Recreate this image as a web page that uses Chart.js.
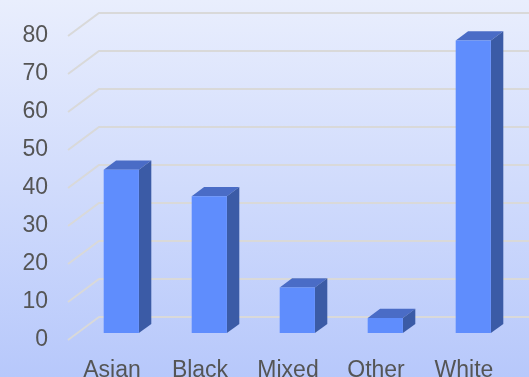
<!DOCTYPE html>
<html>
<head>
<meta charset="utf-8">
<script src="https://cdn.jsdelivr.net/npm/chart.js@4.4.1/dist/chart.umd.min.js"></script>
<style>
  html, body { margin: 0; padding: 0; overflow: hidden; }
  #wrap { width: 529px; height: 377px; }
  canvas { display: block; }
</style>
</head>
<body>
<div id="wrap"><canvas id="chart"></canvas></div>
<script>
const categories = ["Asian", "Black", "Mixed", "Other", "White"];
const counts = [43, 36, 12, 4, 77];
const yMin = 0;
const yMax = 80;
const yStep = 10;

// Fake 3D: the floor recedes by (DEPTH_X, DEPTH_Y); bars sit in the middle of it.
const DEPTH_X = 31, DEPTH_Y = -23;
const BAR_FRONT = 0.3, BAR_DEPTH = 0.4;

const box3d = {
  id: "box3d",
  beforeDraw(chart) {
    const { ctx, width, height } = chart;
    const g = ctx.createLinearGradient(0, 0, 0, height);
    g.addColorStop(0, "#e9eefd");
    g.addColorStop(1, "#b7c8fb");
    ctx.save();
    ctx.fillStyle = g;
    ctx.fillRect(0, 0, width, height);
    ctx.restore();
  },
  beforeDatasetsDraw(chart) {
    const { ctx, chartArea, scales: { y } } = chart;

    // gridlines: short diagonal on the floor, then flat along the back wall
    ctx.save();
    ctx.strokeStyle = "#d9d9d9";
    ctx.lineWidth = 2;
    y.ticks.forEach((t) => {
      const py = y.getPixelForValue(t.value);
      ctx.beginPath();
      ctx.moveTo(chartArea.left, py);
      ctx.lineTo(chartArea.left + DEPTH_X, py + DEPTH_Y);
      ctx.lineTo(chart.width, py + DEPTH_Y);
      ctx.stroke();
    });
    ctx.restore();

    // tops and right sides of the bars
    const meta = chart.getDatasetMeta(0);
    const ox = DEPTH_X * BAR_FRONT, oy = DEPTH_Y * BAR_FRONT;
    const dx = DEPTH_X * BAR_DEPTH, dy = DEPTH_Y * BAR_DEPTH;
    ctx.save();
    meta.data.forEach((bar) => {
      const l = bar.x - bar.width / 2 + ox;
      const r = bar.x + bar.width / 2 + ox;
      const top = bar.y + oy;
      const bot = bar.base + oy;
      ctx.fillStyle = "#4a6cc6";
      ctx.beginPath();
      ctx.moveTo(l, top);
      ctx.lineTo(l + dx, top + dy);
      ctx.lineTo(r + dx, top + dy);
      ctx.lineTo(r, top);
      ctx.closePath();
      ctx.fill();
      ctx.fillStyle = "#3b5ba6";
      ctx.beginPath();
      ctx.moveTo(r, top);
      ctx.lineTo(r + dx, top + dy);
      ctx.lineTo(r + dx, bot + dy);
      ctx.lineTo(r, bot);
      ctx.closePath();
      ctx.fill();
    });
    ctx.restore();

    // front faces get drawn by Chart.js, shifted into the depth
    ctx.save();
    ctx.translate(ox, oy);
  },
  afterDatasetsDraw(chart) {
    chart.ctx.restore();
  },
};

const tickFont = { family: "'Liberation Sans', Arial, sans-serif", size: 23 };

new Chart(document.getElementById("chart"), {
  type: "bar",
  data: {
    labels: categories,
    datasets: [{
      data: counts,
      backgroundColor: "#5f8dfd",
      borderWidth: 0,
      categoryPercentage: 1,
      barPercentage: 0.4,
      clip: false,
    }],
  },
  options: {
    responsive: true,
    maintainAspectRatio: false,
    animation: false,
    layout: { padding: { top: 36, right: 21, left: 0, bottom: 0 } },
    plugins: { legend: { display: false }, tooltip: { enabled: false } },
    scales: {
      x: {
        grid: { display: false },
        border: { display: false },
        ticks: { color: "#555555", font: tickFont, padding: 9, maxRotation: 0 },
        afterFit: (s) => { s.height = 37; },
      },
      y: {
        min: yMin,
        max: yMax,
        grid: { display: false },
        border: { display: false },
        ticks: { stepSize: yStep, color: "#555555", font: tickFont, padding: 12 },
        afterFit: (s) => { s.width = 68; },
      },
    },
  },
  plugins: [box3d],
});
</script>
</body>
</html>
